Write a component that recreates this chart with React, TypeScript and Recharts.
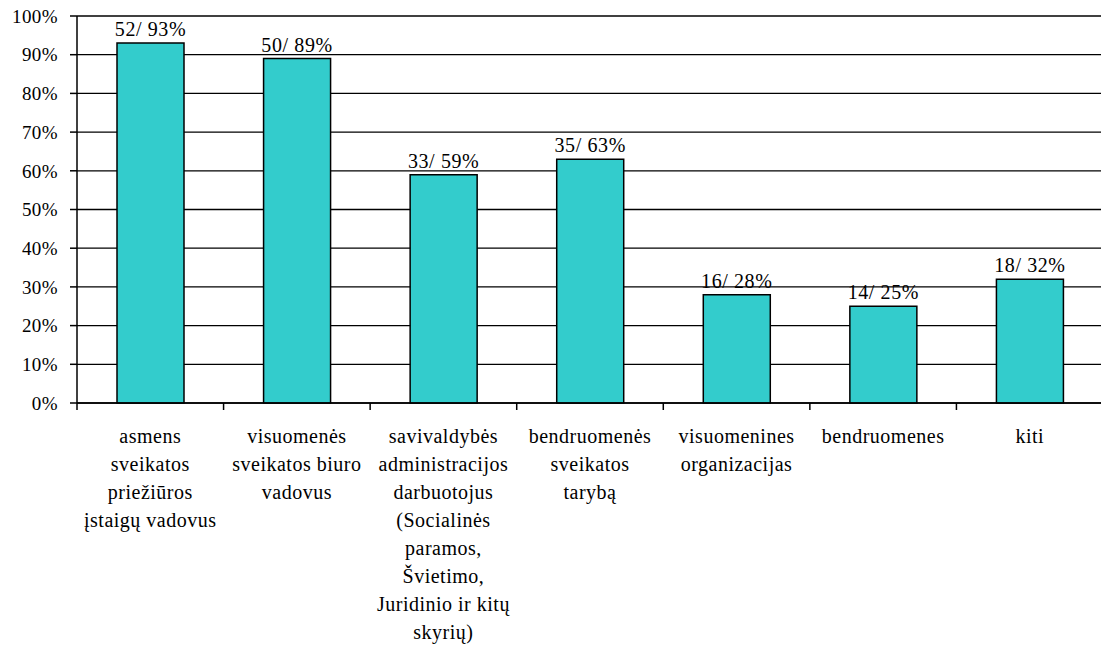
import React from 'react';
import { BarChart, Bar, XAxis, YAxis, CartesianGrid, LabelList } from 'recharts';

const categoryLines: string[][] = [
    ['asmens', 'sveikatos', 'priežiūros', 'įstaigų vadovus'],
    ['visuomenės', 'sveikatos biuro', 'vadovus'],
    ['savivaldybės', 'administracijos', 'darbuotojus', '(Socialinės', 'paramos,', 'Švietimo,', 'Juridinio ir kitų', 'skyrių)'],
    ['bendruomenės', 'sveikatos', 'tarybą'],
    ['visuomenines', 'organizacijas'],
    ['bendruomenes'],
    ['kiti'],
];
const counts = [52, 50, 33, 35, 16, 14, 18];
const percents = [93, 89, 59, 63, 28, 25, 32];
const yTicks = [0, 10, 20, 30, 40, 50, 60, 70, 80, 90, 100];

const data = categoryLines.map((lines, i) => ({
    name: lines.join(' '),
    idx: i,
    count: counts[i],
    pct: percents[i],
}));

const FONT = 'Liberation Serif, Times New Roman, serif';
const W = 1120;
const H = 652;
const M = { top: 16, right: 17, bottom: 9, left: 7 };
const Y_W = 70;
const plotW = W - M.left - M.right - Y_W;
const band = plotW / categoryLines.length;

// eslint-disable-next-line @typescript-eslint/no-explicit-any
const CategoryTick = (props: any) => {
    const { x, y, payload } = props;
    const lines = categoryLines[payload.index] || [];
    const bx = x - band / 2;
    return (
        <g>
            <line x1={bx} y1={y} x2={bx} y2={y + 7} stroke="#000" strokeWidth={1.5} />
            <text x={x} y={y + 40} textAnchor="middle" fontFamily={FONT} fontSize={20} letterSpacing={0.5} fill="#000">
                {lines.map((l, i) => (
                    <tspan key={i} x={x} dy={i === 0 ? 0 : 28}>{l}</tspan>
                ))}
            </text>
        </g>
    );
};

// eslint-disable-next-line @typescript-eslint/no-explicit-any
const ValueLabel = (props: any) => {
    const { x, y, width, index } = props;
    return (
        <text x={x + width / 2} y={y - 7} textAnchor="middle" fontFamily={FONT} fontSize={20} letterSpacing={0.6} fill="#000">
            {`${counts[index]}/ ${percents[index]}%`}
        </text>
    );
};

export default function App() {
    return (
        <div style={{ position: 'absolute', left: 0, top: 0, width: 1101, height: 652, overflow: 'hidden', background: '#fff' }}>
            <BarChart width={W} height={H} data={data} margin={M}>
                <CartesianGrid vertical={false} stroke="#000" strokeWidth={1.3} />
                <XAxis
                    dataKey="idx"
                    type="category"
                    height={H - M.top - M.bottom - 387}
                    axisLine={{ stroke: '#000', strokeWidth: 1.5 }}
                    tickLine={false}
                    tickSize={0}
                    tickMargin={0}
                    interval={0}
                    tick={<CategoryTick />}
                />
                <YAxis
                    width={Y_W}
                    domain={[0, 100]}
                    ticks={yTicks}
                    interval={0}
                    tickFormatter={(v) => `${v}%`}
                    axisLine={{ stroke: '#000', strokeWidth: 1.5 }}
                    tickLine={{ stroke: '#000', strokeWidth: 1.5 }}
                    tickSize={7}
                    tickMargin={12}
                    tick={{ fill: '#000', fontSize: 19, fontFamily: FONT, letterSpacing: 0.4 }}
                />
                <Bar dataKey="pct" fill="#33CCCC" stroke="#000" strokeWidth={1.5} barSize={67} isAnimationActive={false}>
                    <LabelList dataKey="pct" content={<ValueLabel />} />
                </Bar>
            </BarChart>
        </div>
    );
}
